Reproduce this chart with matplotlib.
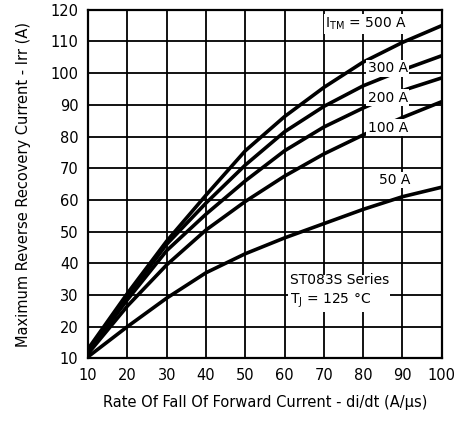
import matplotlib.pyplot as plt

# rate of fall of forward current di/dt (A/us)
didt = [10, 20, 30, 40, 50, 60, 70, 80, 90, 100]

# max reverse recovery current Irr (A) for each I_TM
irr_500 = [13, 30.5, 47, 61.5, 75.5, 86.3, 95.5, 103.5, 109.7, 115]
irr_300 = [12.5, 29.5, 46, 59, 71, 81.5, 89.5, 96, 101, 105.5]
irr_200 = [12, 28.5, 44, 55.5, 66, 75.5, 83, 89, 94.5, 98.5]
irr_100 = [11.5, 26.5, 39.5, 50.5, 59.5, 67.5, 74.5, 80.5, 86, 91]
irr_50 = [10.5, 20, 29, 37, 43, 48, 52.5, 57, 61, 64]

x_ticks = list(range(10, 101, 10))
y_ticks = list(range(10, 121, 10))

plt.rcParams['font.family'] = ['DejaVu Sans']

fig = plt.figure(figsize=(4.64, 4.26), dpi=100)
ax = fig.add_axes([0.19, 0.159, 0.762, 0.818])

for s in [irr_500, irr_300, irr_200, irr_100, irr_50]:
    ax.plot(didt, s, color='black', lw=2.6, solid_joinstyle='round', zorder=3)

ax.set_xlim(10, 100)
ax.set_ylim(10, 120)
ax.set_xticks(x_ticks)
ax.set_yticks(y_ticks)
ax.grid(True, color='black', lw=1.3)
for sp in ax.spines.values():
    sp.set_linewidth(1.6)
ax.tick_params(length=0, labelsize=10.5, pad=7)

# labels sit on white boxes so they cut the curves and grid
box = dict(facecolor='white', edgecolor='none', pad=1.0)
ax.text(70.3, 115.5, r"I$_{\rm TM}$ = 500 A", fontsize=10, va='center', ha='left', bbox=box, zorder=5)
ax.text(86.3, 101.5, "300 A", fontsize=10, va='center', ha='center', bbox=box, zorder=5)
ax.text(86.3, 92.3, "200 A", fontsize=10, va='center', ha='center', bbox=box, zorder=5)
ax.text(86.3, 82.8, "100 A", fontsize=10, va='center', ha='center', bbox=box, zorder=5)
ax.text(88, 66.3, "50 A", fontsize=10, va='center', ha='center', bbox=box, zorder=5)
ax.text(61.3, 31, "ST083S Series\n" + r"T$_{\rm J}$ = 125 °C", fontsize=10, va='center', ha='left',
        linespacing=1.4, bbox=box, zorder=5)

ax.set_xlabel("Rate Of Fall Of Forward Current - di/dt (A/\u00b5s)", fontsize=10.5, labelpad=9)
ax.set_ylabel("Maximum Reverse Recovery Current - Irr (A)", fontsize=10.5, labelpad=14)

fig.savefig("out.png", dpi=100)
